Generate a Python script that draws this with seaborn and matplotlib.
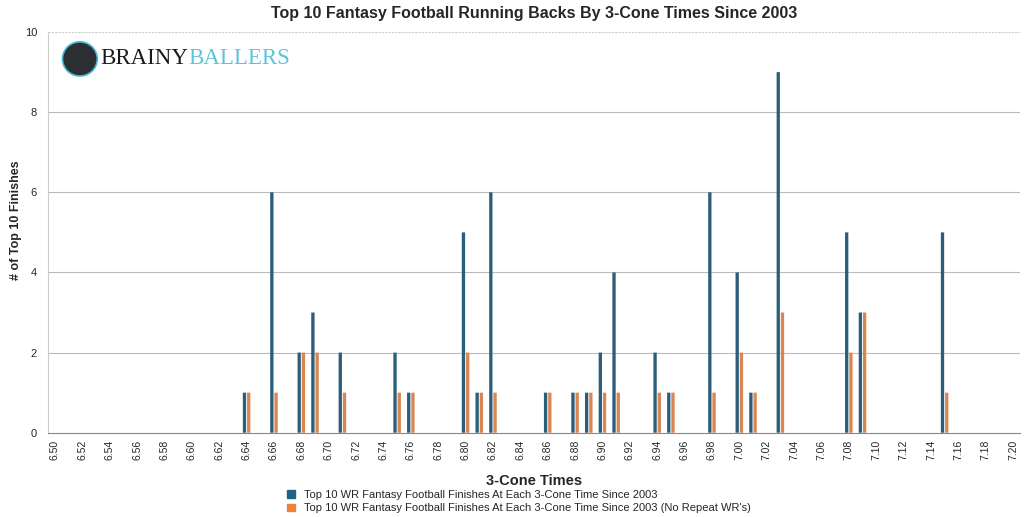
import numpy as np
import pandas as pd
import matplotlib
matplotlib.use("Agg")
import matplotlib.pyplot as plt
from matplotlib.patches import Ellipse
import seaborn as sns

# 3-cone times with at least one top-10 finish
times = ["6.64", "6.66", "6.68", "6.69", "6.71", "6.75", "6.76", "6.80", "6.81", "6.82",
         "6.86", "6.88", "6.89", "6.90", "6.91", "6.94", "6.95", "6.98", "7.00", "7.01",
         "7.03", "7.08", "7.09", "7.15"]
all_finishes = [1, 6, 2, 3, 2, 2, 1, 5, 1, 6,
                1, 1, 1, 2, 4, 2, 1, 6, 4, 1,
                9, 5, 3, 5]
no_repeat = [1, 1, 2, 2, 1, 1, 1, 2, 1, 1,
             1, 1, 1, 1, 1, 1, 1, 1, 2, 1,
             3, 2, 3, 1]

# full category axis 6.50 .. 7.20
categories = [f"{v / 100:.2f}" for v in range(650, 721)]

s1 = "Top 10 WR Fantasy Football Finishes At Each 3-Cone Time Since 2003"
s2 = "Top 10 WR Fantasy Football Finishes At Each 3-Cone Time Since 2003 (No Repeat WR's)"

d1 = dict(zip(times, all_finishes))
d2 = dict(zip(times, no_repeat))
rows = []
for c in categories:
    rows.append({"time": c, "series": s1, "count": d1.get(c, 0)})
    rows.append({"time": c, "series": s2, "count": d2.get(c, 0)})
df = pd.DataFrame(rows)

sns.set_style("white")
plt.rcParams["font.family"] = ["Liberation Sans", "DejaVu Sans"]

fig, ax = plt.subplots(figsize=(10.24, 5.17), dpi=100)
fig.subplots_adjust(left=0.047, right=0.996, top=0.938, bottom=0.163)

sns.barplot(data=df, x="time", y="count", hue="series", order=categories,
            palette=["#1f6287", "#f0813d"], width=0.62, gap=0.22,
            linewidth=0, ax=ax, legend=False)
for p in ax.patches:
    p.set_snap(False)

ax.set_ylim(0, 10)
ax.set_xlim(-0.5, len(categories) - 0.5)
ax.set_yticks([0, 2, 4, 6, 8, 10])
ax.tick_params(axis="y", labelsize=8, length=0, pad=8)
ax.set_xticks(range(len(categories)))
ax.set_xticklabels([c if i % 2 == 0 else "" for i, c in enumerate(categories)],
                   rotation=90, fontsize=7.5)
ax.tick_params(axis="x", length=3, color="#999999", pad=2)

for y in [2, 4, 6, 8]:
    ax.axhline(y, color="#bbbbbb", lw=0.8, zorder=0)
ax.axhline(10, color="#cccccc", lw=0.8, ls=(0, (2, 1)), zorder=0)

for s in ["top", "right"]:
    ax.spines[s].set_visible(False)
ax.spines["left"].set_color("#cccccc")
ax.spines["left"].set_linestyle((0, (2, 1)))
ax.spines["bottom"].set_color("#888888")
ax.spines["bottom"].set_linewidth(0.8)

ax.set_title("Top 10 Fantasy Football Running Backs By 3-Cone Times Since 2003",
             fontsize=11.5, fontweight="bold", pad=10)
ax.set_xlabel("3-Cone Times", fontsize=10.5, fontweight="bold", labelpad=10)
ax.set_ylabel("# of Top 10 Finishes", fontsize=9, fontweight="bold")
ax.yaxis.set_label_coords(-0.027, 0.53)

# logo
fig.patches.append(Ellipse((0.078, 0.886), 0.034, 0.066, transform=fig.transFigure,
                           facecolor="#2b2f33", edgecolor="#46b8d4", lw=1.2))
t1 = fig.text(0.098, 0.886, "BRAINY", fontsize=16.5, family="Liberation Serif",
              color="#1a1a1a", va="center")
fig.canvas.draw()
bb = t1.get_window_extent(renderer=fig.canvas.get_renderer())
x_next = fig.transFigure.inverted().transform((bb.x1, bb.y0))[0]
fig.text(x_next, 0.886, "BALLERS", fontsize=16.5, family="Liberation Serif",
         color="#5bc4dc", va="center")

# legend under the x label
handles = [plt.Rectangle((0, 0), 1, 1, color="#1f6287"),
           plt.Rectangle((0, 0), 1, 1, color="#f0813d")]
fig.legend(handles, [s1, s2], loc="lower left", bbox_to_anchor=(0.274, -0.006),
           frameon=False, fontsize=8, handlelength=0.7, handleheight=0.7,
           handletextpad=0.8, labelspacing=0.35, borderaxespad=0.2)

fig.savefig("out.png", dpi=100)
